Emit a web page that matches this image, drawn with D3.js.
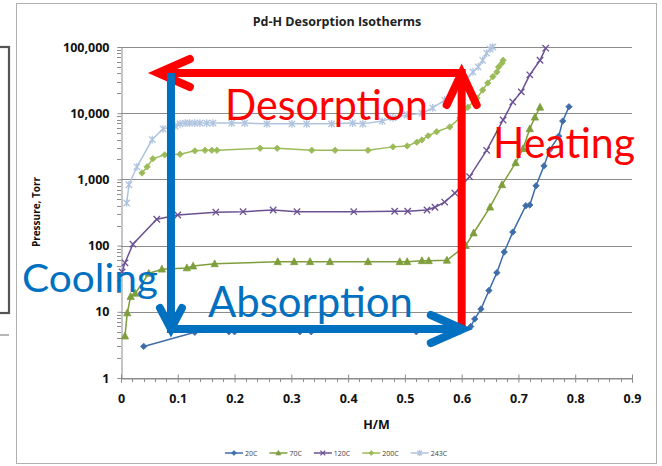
<!DOCTYPE html>
<html>
<head>
<meta charset="utf-8">
<script src="https://cdn.jsdelivr.net/npm/d3@7"></script>
<style>
  body { margin: 0; background: #fff; }
  svg { display: block; }
</style>
</head>
<body>
<svg id="chart" width="662" height="466"></svg>
<script>
// ---- data -------------------------------------------------------------
const hmTicks = [0, 0.1, 0.2, 0.3, 0.4, 0.5, 0.6, 0.7, 0.8, 0.9];
const pressureTicks = [1, 10, 100, 1000, 10000, 100000];
const seriesNames = ["20C", "70C", "120C", "200C", "243C"];

const hm20 = [0.04, 0.13, 0.19, 0.20, 0.315, 0.335, 0.52, 0.597, 0.616, 0.623, 0.634, 0.648, 0.662, 0.675, 0.69, 0.713, 0.72, 0.731, 0.745, 0.755, 0.771, 0.778, 0.789];
const p20  = [3, 4.9, 5, 5, 5, 5, 5, 5.1, 6, 7.8, 11, 21, 39, 80, 160, 400, 410, 800, 1600, 2800, 4500, 7600, 12500];

const hm70 = [0.007, 0.011, 0.017, 0.025, 0.049, 0.072, 0.116, 0.127, 0.165, 0.276, 0.305, 0.333, 0.368, 0.435, 0.491, 0.504, 0.530, 0.542, 0.574, 0.607, 0.621, 0.650, 0.671, 0.695, 0.708, 0.720, 0.729, 0.738];
const p70  = [4.3, 9.6, 17, 19, 38, 44, 46, 49, 53, 57, 57, 57, 57, 57, 57, 57, 59, 59, 60, 100, 155, 380, 830, 1780, 2900, 5800, 8700, 12300];

const hm120 = [0.002, 0.007, 0.021, 0.063, 0.10, 0.167, 0.215, 0.268, 0.31, 0.41, 0.482, 0.505, 0.539, 0.553, 0.57, 0.588, 0.614, 0.644, 0.673, 0.69, 0.705, 0.72, 0.738, 0.748];
const p120  = [40, 55, 105, 250, 290, 320, 325, 345, 325, 325, 330, 330, 345, 380, 455, 620, 1100, 2750, 7900, 14800, 21000, 38000, 63000, 96000];

const hm200 = [0.037, 0.046, 0.056, 0.077, 0.104, 0.13, 0.148, 0.16, 0.169, 0.245, 0.275, 0.336, 0.377, 0.435, 0.479, 0.504, 0.521, 0.530, 0.541, 0.556, 0.579, 0.597, 0.611, 0.627, 0.637, 0.646, 0.655, 0.662, 0.665, 0.671, 0.673];
const p200  = [1250, 1550, 2050, 2350, 2400, 2700, 2750, 2750, 2750, 2950, 2950, 2750, 2750, 2750, 3100, 3200, 3650, 3950, 4550, 5250, 6200, 8500, 12300, 17000, 22400, 28600, 35700, 42000, 50000, 57000, 63000];

const hm243 = [0.01, 0.014, 0.028, 0.055, 0.074, 0.095, 0.104, 0.113, 0.121, 0.13, 0.139, 0.151, 0.162, 0.195, 0.218, 0.257, 0.301, 0.327, 0.371, 0.408, 0.426, 0.46, 0.479, 0.504, 0.53, 0.549, 0.57, 0.585, 0.597, 0.609, 0.62, 0.629, 0.637, 0.644, 0.65, 0.655];
const p243  = [440, 830, 1550, 4000, 5800, 6400, 6900, 7100, 7100, 7100, 7100, 7100, 7100, 7100, 7100, 6900, 6900, 6900, 6900, 7100, 6900, 7600, 8500, 9400, 10000, 12000, 15800, 21000, 27000, 33000, 42000, 50000, 63000, 81000, 93000, 100000];

// process arrows (H/M, pressure) drawn over the isotherms
const desorptionArrow = [[0.6, 5.3], [0.6, 40500], [0.065, 40500]];
const absorptionArrow = [[0.088, 40500], [0.088, 5.5], [0.602, 5.5]];

// ---- styling ----------------------------------------------------------
const colors  = ["#3E6DAA", "#7E9E3C", "#6B5193", "#9BBB59", "#AFC3DF"];
const markers = ["diamond", "triangle", "cross", "diamond", "star"];
const chartFont = "'Open Sans', 'DejaVu Sans', sans-serif";
const noteFont = "Lato, 'Open Sans', sans-serif";

const svg = d3.select("#chart");
const W = 662, H = 466;
const plot = { left: 121, right: 632, top: 47, bottom: 378 };

const x = d3.scaleLinear().domain([0, 0.9]).range([plot.left, plot.right]);
const y = d3.scaleLog().domain([1, 100000]).range([plot.bottom, plot.top]);

svg.append("rect").attr("width", W).attr("height", H).attr("fill", "#fff");

// neighbouring frame at the left edge of the sheet
svg.append("rect").attr("x", -4).attr("y", 47).attr("width", 13).attr("height", 266)
  .attr("fill", "none").attr("stroke", "#555").attr("stroke-width", 2.2);
svg.append("line").attr("x1", 0).attr("x2", 9).attr("y1", 335).attr("y2", 335)
  .attr("stroke", "#888").attr("stroke-width", 1.2);

// chart frame
svg.append("rect").attr("x", 16.5).attr("y", 3.5).attr("width", 640).attr("height", 460)
  .attr("fill", "#fff").attr("stroke", "#b0b0b0").attr("stroke-width", 1);

// title
svg.append("text").attr("x", 337).attr("y", 25.5).attr("text-anchor", "middle")
  .attr("font-family", chartFont).attr("font-weight", 700).attr("font-size", 12.5)
  .attr("fill", "#222").text("Pd-H Desorption Isotherms");

// horizontal gridlines
svg.append("g").selectAll("line").data(pressureTicks).join("line")
  .attr("x1", plot.left).attr("x2", plot.right)
  .attr("y1", d => Math.round(y(d)) + 0.5).attr("y2", d => Math.round(y(d)) + 0.5)
  .attr("stroke", "#8c8c8c").attr("stroke-width", 1);

// y axis (log, minor ticks outside)
const yAxis = d3.axisLeft(y)
  .tickValues(pressureTicks)
  .tickFormat(d3.format(","))
  .tickSize(4).tickPadding(8);
const yG = svg.append("g").attr("transform", `translate(${plot.left + 0.5},0)`).call(yAxis);
yG.select(".domain").attr("stroke", "#8c8c8c");
yG.selectAll(".tick line").attr("stroke", "#8c8c8c");
yG.selectAll("text").attr("font-family", chartFont).attr("font-weight", 700)
  .attr("font-size", 12.5).attr("fill", "#111");
const minorY = [];
pressureTicks.slice(0, -1).forEach(d => { for (let k = 2; k <= 9; k++) minorY.push(d * k); });
svg.append("g").selectAll("line").data(minorY).join("line")
  .attr("x1", plot.left - 4).attr("x2", plot.left)
  .attr("y1", d => Math.round(y(d)) + 0.5).attr("y2", d => Math.round(y(d)) + 0.5)
  .attr("stroke", "#8c8c8c");

// x axis (major ticks cross, minor below)
const xAxis = d3.axisBottom(x).tickValues(hmTicks)
  .tickFormat(d => d === 0 ? "0" : d3.format(".1f")(d))
  .tickSize(4).tickPadding(12);
const xG = svg.append("g").attr("transform", `translate(0,${plot.bottom + 0.5})`).call(xAxis);
xG.select(".domain").attr("stroke", "#8c8c8c");
xG.selectAll(".tick line").attr("stroke", "#8c8c8c").attr("y1", -4);
xG.selectAll("text").attr("font-family", chartFont).attr("font-weight", 700)
  .attr("font-size", 12.5).attr("fill", "#111");
const minorX = d3.range(0, 90, 2).filter(v => v % 10 !== 0).map(v => v / 100);
svg.append("g").selectAll("line").data(minorX).join("line")
  .attr("x1", d => Math.round(x(d)) + 0.5).attr("x2", d => Math.round(x(d)) + 0.5)
  .attr("y1", plot.bottom).attr("y2", plot.bottom + 4).attr("stroke", "#8c8c8c");

// axis titles
svg.append("text").attr("x", (plot.left + plot.right) / 2).attr("y", 429)
  .attr("text-anchor", "middle").attr("font-family", chartFont).attr("font-weight", 700)
  .attr("font-size", 12.5).attr("fill", "#111").text("H/M");
svg.append("text").attr("transform", "translate(40,212) rotate(-90)")
  .attr("text-anchor", "middle").attr("font-family", chartFont).attr("font-weight", 700)
  .attr("font-size", 10).attr("fill", "#111").text("Pressure, Torr");

// ---- isotherms -------------------------------------------------------
function markerPath(type, s) {
  if (type === "diamond") return `M0,${-s}L${s},0L0,${s}L${-s},0Z`;
  if (type === "triangle") return `M0,${-s * 1.1}L${s},${s * 0.8}L${-s},${s * 0.8}Z`;
  if (type === "cross") return `M${-s},${-s}L${s},${s}M${-s},${s}L${s},${-s}`;
  return `M${-s},${-s}L${s},${s}M${-s},${s}L${s},${-s}M0,${-s * 1.2}L0,${s * 1.2}`;
}
function drawMarker(g, type, color, s) {
  const filled = type === "diamond" || type === "triangle";
  g.append("path").attr("d", markerPath(type, s))
    .attr("fill", filled ? color : "none")
    .attr("stroke", color).attr("stroke-width", filled ? 0.8 : 1.3)
    .attr("stroke-linejoin", "round");
}

const series = [
  { hm: hm20, p: p20 }, { hm: hm70, p: p70 }, { hm: hm120, p: p120 },
  { hm: hm200, p: p200 }, { hm: hm243, p: p243 }
].map((s, i) => ({
  name: seriesNames[i], color: colors[i], marker: markers[i],
  points: s.hm.map((h, j) => ({ h, p: s.p[j] }))
}));

const line = d3.line().x(d => x(d.h)).y(d => y(d.p));
const plotG = svg.append("g");
series.slice().reverse().forEach(s => {
  plotG.append("path").datum(s.points).attr("d", line)
    .attr("fill", "none").attr("stroke", s.color).attr("stroke-width", 1.5);
  s.points.forEach(d => {
    const g = plotG.append("g").attr("transform", `translate(${x(d.h)},${y(d.p)})`);
    drawMarker(g, s.marker, s.color, s.marker === "triangle" ? 3.6 : 3.2);
  });
});

// ---- legend ------------------------------------------------------------
const legend = svg.append("g").attr("transform", "translate(225,453)");
let lx = 0;
series.forEach(s => {
  const item = legend.append("g").attr("transform", `translate(${lx},0)`);
  item.append("line").attr("x1", 0).attr("x2", 18).attr("stroke", s.color).attr("stroke-width", 1.5);
  const m = item.append("g").attr("transform", "translate(9,0)");
  drawMarker(m, s.marker, s.color, 2.4);
  const t = item.append("text").attr("x", 20).attr("y", 2.5)
    .attr("font-family", chartFont).attr("font-size", 7).attr("fill", "#404040").text(s.name);
  lx += 20 + t.node().getComputedTextLength() + 12;
});

// ---- process arrows ----------------------------------------------------
const arrowLine = d3.line().x(d => x(d[0])).y(d => y(d[1]));
function chevron(tip, a, b, color) {
  svg.append("path")
    .attr("d", `M${tip[0] + a[0]},${tip[1] + a[1]}L${tip[0]},${tip[1]}L${tip[0] + b[0]},${tip[1] + b[1]}`)
    .attr("fill", "none").attr("stroke", color).attr("stroke-width", 8)
    .attr("stroke-linecap", "round").attr("stroke-linejoin", "miter");
}
const red = "#FF0000", blue = "#0070C0";

svg.append("path").datum(desorptionArrow).attr("d", arrowLine)
  .attr("fill", "none").attr("stroke", red).attr("stroke-width", 8).attr("stroke-linejoin", "miter");
const dCorner = [x(desorptionArrow[1][0]), y(desorptionArrow[1][1])];
const dTip = [x(desorptionArrow[2][0]), y(desorptionArrow[2][1])];
chevron(dCorner, [-15, 32], [15, 32], red);
chevron(dTip, [32, -14], [32, 14], red);

svg.append("path").datum(absorptionArrow).attr("d", arrowLine)
  .attr("fill", "none").attr("stroke", blue).attr("stroke-width", 8).attr("stroke-linejoin", "miter");
const aCorner = [x(absorptionArrow[1][0]), y(absorptionArrow[1][1])];
const aTip = [x(absorptionArrow[2][0]), y(absorptionArrow[2][1])];
chevron(aCorner, [-11, -21], [11, -21], blue);
chevron(aTip, [-32, -14], [-32, 14], blue);

// process labels
function note(txt, px, py, size, len, color) {
  svg.append("text").attr("x", px).attr("y", py)
    .attr("font-family", noteFont).attr("font-size", size).attr("fill", color)
    .attr("textLength", len).attr("lengthAdjust", "spacingAndGlyphs").text(txt);
}
note("Desorption", 225, 120, 42, 203, red);
note("Heating", 493, 158, 42, 142, red);
note("Cooling", 22, 292, 38, 136, blue);
note("Absorption", 208, 317, 42, 205, blue);
</script>
</body>
</html>
